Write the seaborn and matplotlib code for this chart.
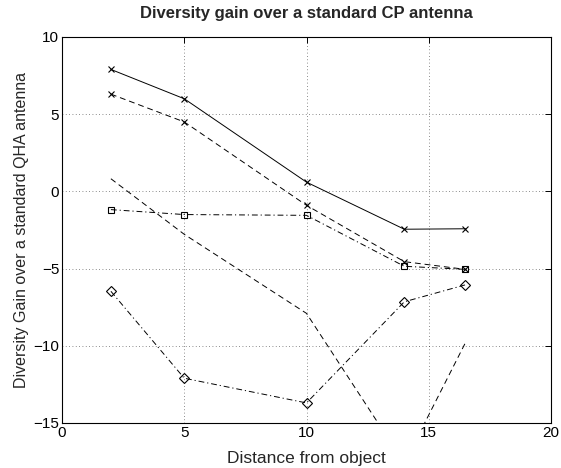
import matplotlib
matplotlib.use("Agg")
import matplotlib.pyplot as plt
import seaborn as sns
import pandas as pd

sns.set_style("white")
plt.rcParams['font.family'] = ['Liberation Sans', 'DejaVu Sans']

distance = [2, 5, 10, 14, 16.5]
series_solid_x = [7.9, 6.0, 0.6, -2.45, -2.42]
series_dashed_x = [6.3, 4.5, -0.9, -4.55, -5.05]
series_dashdot_sq = [-1.18, -1.5, -1.55, -4.85, -5.05]
series_dashdot_dia = [-6.47, -12.1, -13.7, -7.15, -6.05]
series_dashed_plain = [0.82, -2.78, -7.9, -17.6, -9.8]

xticks = [0, 5, 10, 15, 20]
yticks = [-15, -10, -5, 0, 5, 10]

fig = plt.figure(figsize=(5.61, 4.68), dpi=100)
ax = fig.add_axes([62/561, 1-423/468, (551-62)/561, (423-37)/468])

styles = [
    (series_solid_x, '-', 'x', 4.5),
    (series_dashed_x, (0, (6, 4)), 'x', 4.5),
    (series_dashdot_sq, (0, (6, 3, 1.2, 3)), 's', 5),
    (series_dashdot_dia, (0, (6, 3, 1.2, 3)), 'D', 5.5),
    (series_dashed_plain, (0, (6, 4)), None, 0),
]

for vals, ls, mk, ms in styles:
    df = pd.DataFrame({'x': distance, 'y': vals})
    sns.lineplot(data=df, x='x', y='y', ax=ax, sort=False, estimator=None,
                 color='black', linewidth=0.7, linestyle=ls,
                 marker=mk if mk else None, markersize=ms,
                 markerfacecolor='none', markeredgecolor='black',
                 markeredgewidth=0.8)

ax.set_xlim(0, 20)
ax.set_ylim(-15, 10)
ax.set_xticks(xticks)
ax.set_yticks(yticks)
ax.grid(True, linestyle=(0, (1, 3)), color='black', linewidth=0.6, alpha=0.6)
ax.tick_params(direction='in', top=True, right=True, length=4, width=0.7,
               labelsize=11, pad=2, colors='black')
for s in ax.spines.values():
    s.set_visible(True)
    s.set_color('black')
    s.set_linewidth(0.8)

ax.set_xlabel('Distance from object', fontsize=12.5, labelpad=8)
ax.set_ylabel('Diversity Gain over a standard QHA antenna', fontsize=11.5, labelpad=3)
ax.set_title('Diversity gain over a standard CP antenna', fontsize=12,
             fontweight='bold', pad=14)

fig.savefig('out.png', dpi=100)
